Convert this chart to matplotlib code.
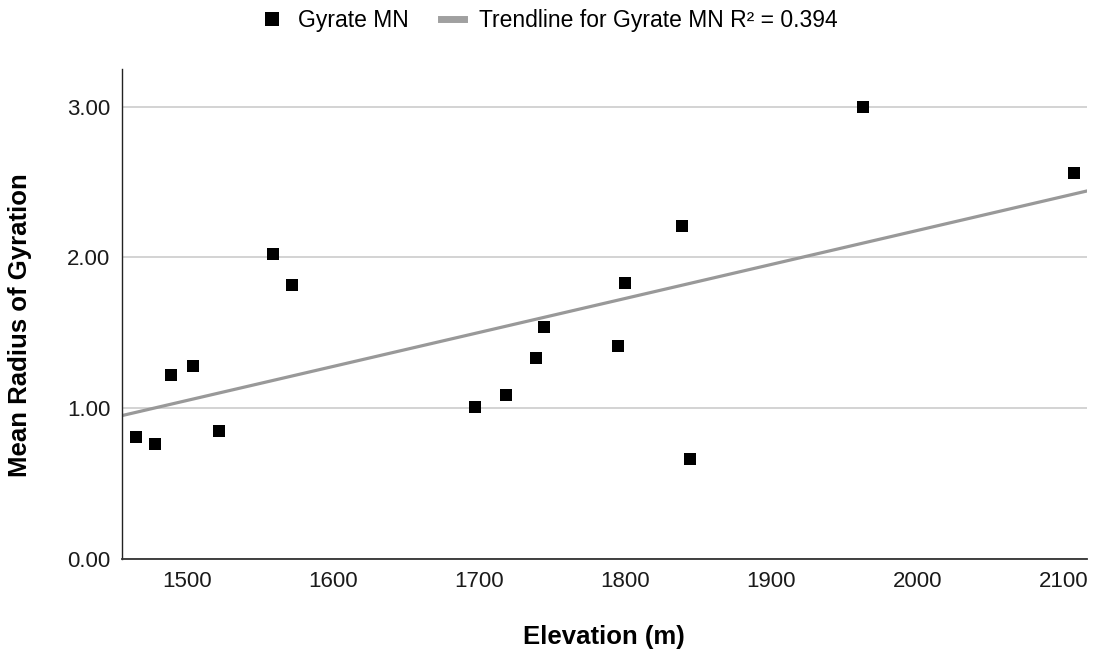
import numpy as np
import matplotlib.pyplot as plt
from matplotlib.lines import Line2D

plt.rcParams['font.family'] = ['Liberation Sans', 'DejaVu Sans']

# Elevation (m) and mean radius of gyration for each site
elevation = [1465, 1478, 1489, 1504, 1522, 1559, 1572, 1697, 1718,
             1739, 1744, 1795, 1800, 1839, 1844, 1963, 2107]
gyrate_mn = [0.81, 0.76, 1.22, 1.28, 0.85, 2.02, 1.82, 1.01, 1.09,
             1.33, 1.54, 1.41, 1.83, 2.21, 0.66, 3.00, 2.56]
r_squared = 0.394

x_min, x_max = 1455.5, 2116
y_min, y_max = 0, 3.25

# Linear trendline fitted to the points
slope, intercept = np.polyfit(elevation, gyrate_mn, 1)
trend_x = np.array([x_min, x_max])
trend_y = slope * trend_x + intercept

fig = plt.figure(figsize=(10.93, 6.52), dpi=100)
ax = fig.add_axes([122 / 1093, 1 - 559 / 652, 965 / 1093, 490 / 652])

ax.plot(trend_x, trend_y, color='#999999', linewidth=2.3, zorder=2)
ax.scatter(elevation, gyrate_mn, marker='s', s=78, color='black',
           linewidths=0, zorder=3)

ax.set_xlim(x_min, x_max)
ax.set_ylim(y_min, y_max)
ax.set_xticks([1500, 1600, 1700, 1800, 1900, 2000, 2100])
ax.set_yticks([0, 1, 2, 3])
ax.yaxis.set_major_formatter(plt.FormatStrFormatter('%.2f'))
ax.tick_params(length=0, labelsize=16, pad=8.5, colors='#1a1a1a')

ax.grid(axis='y', color='#cccccc', linewidth=1.2, zorder=0)
ax.set_axisbelow(True)
for side in ['top', 'right']:
    ax.spines[side].set_visible(False)
ax.spines['left'].set_color('#222222')
ax.spines['bottom'].set_color('#333333')
ax.spines['left'].set_linewidth(1.0)
ax.spines['bottom'].set_linewidth(1.3)

fig.text(604 / 1093, 1 - 637 / 652, 'Elevation (m)', ha='center', va='center',
         fontsize=18.5, fontweight='bold')
fig.text(20 / 1093, 1 - 325 / 652, 'Mean Radius of Gyration', ha='center',
         va='center', rotation=90, fontsize=18.5, fontweight='bold')

# legend swatches are drawn a bit larger than the plotted marks
handles = [
    Line2D([], [], linestyle='none', marker='s', markersize=10.5,
           markerfacecolor='black', markeredgewidth=0),
    Line2D([], [], color='#a0a0a0', linewidth=5),
]
labels = ['Gyrate MN', f'Trendline for Gyrate MN R\u00b2 = {r_squared}']
fig.legend(handles, labels, loc='center', ncol=2,
           bbox_to_anchor=(549 / 1093, 1 - 21 / 652), frameon=False,
           fontsize=16.5, handlelength=1.0, handletextpad=0.65,
           columnspacing=1.4)

fig.savefig('out.png', dpi=100)
